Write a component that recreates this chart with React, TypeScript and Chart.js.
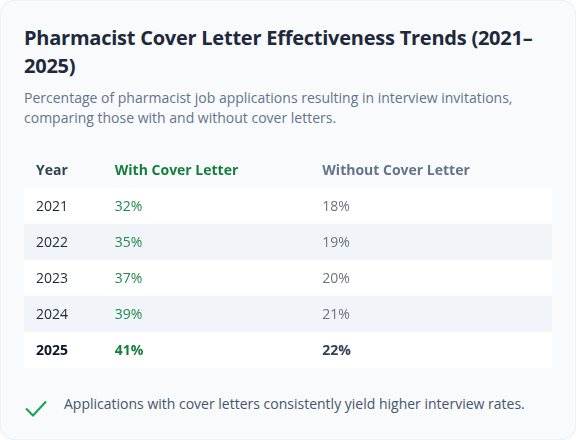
import { useEffect, useRef } from "react"
import { Chart, registerables, type ChartConfiguration, type Plugin } from "chart.js"

Chart.register(...registerables)

const headers = ["Year", "With Cover Letter", "Without Cover Letter"]
const years = ["2021", "2022", "2023", "2024", "2025"]
const withCover = [32, 35, 37, 39, 41]
const withoutCover = [18, 19, 20, 21, 22]

const FONT = "'Open Sans', 'Noto Sans', sans-serif"

// column starts as fractions of the table width
const colPos = [0.0227, 0.172, 0.565]

const cellText: Plugin<"bar"> = {
  id: "cellText",
  afterDatasetsDraw(chart) {
    const { ctx, scales } = chart
    const xs = colPos.map((p) => scales.x.getPixelForValue(p))
    const last = years.length - 1
    ctx.save()
    ctx.textBaseline = "alphabetic"
    ctx.textAlign = "left"

    // header row
    const hy = scales.y.getPixelForValue(0) + 5
    const headColors = ["#334155", "#15803d", "#64748b"]
    ctx.font = `bold 14px ${FONT}`
    headers.forEach((h, c) => {
      ctx.fillStyle = headColors[c]
      ctx.fillText(h, xs[c], hy)
    })

    years.forEach((yr, i) => {
      const y = scales.y.getPixelForValue(i + 1) + 5
      const bold = i === last
      ctx.font = `${bold ? "bold " : ""}14px ${FONT}`
      ctx.fillStyle = bold ? "#0f172a" : "#1f2937"
      ctx.fillText(yr, xs[0], y)
      ctx.fillStyle = bold ? "#15803d" : "#1f8a4c"
      ctx.fillText(`${withCover[i]}%`, xs[1], y)
      ctx.fillStyle = bold ? "#334155" : "#6b7280"
      ctx.fillText(`${withoutCover[i]}%`, xs[2], y)
    })
    ctx.restore()
  },
}

function CoverLetterTable() {
  const canvasRef = useRef<HTMLCanvasElement>(null)
  const chartRef = useRef<Chart | null>(null)

  useEffect(() => {
    if (!canvasRef.current) return
    if (chartRef.current) chartRef.current.destroy()

    const rows = ["header", ...years]

    const config: ChartConfiguration<"bar", number[], string> = {
      type: "bar",
      data: {
        labels: rows,
        datasets: [
          {
            // full-width row stripes
            data: rows.map(() => 1),
            backgroundColor: rows.map((_, i) =>
              i === 0 ? "rgba(0,0,0,0)" : i % 2 === 1 ? "#ffffff" : "#f1f5f9"
            ),
            borderWidth: 0,
            barPercentage: 1,
            categoryPercentage: 1,
          },
        ],
      },
      options: {
        indexAxis: "y",
        responsive: true,
        maintainAspectRatio: false,
        animation: false,
        events: [],
        layout: { padding: 0 },
        scales: {
          x: { type: "linear", min: 0, max: 1, display: false, grid: { display: false } },
          y: { type: "category", display: false, grid: { display: false } },
        },
        plugins: {
          legend: { display: false },
          tooltip: { enabled: false },
        },
      },
      plugins: [cellText],
    }

    chartRef.current = new Chart(canvasRef.current, config)

    return () => {
      if (chartRef.current) {
        chartRef.current.destroy()
        chartRef.current = null
      }
    }
  }, [])

  return (
    <div style={{ position: "relative", width: 528, height: 216, marginTop: 24 }}>
      <canvas ref={canvasRef} />
    </div>
  )
}

export default function App() {
  return (
    <div
      style={{
        position: "fixed",
        left: 0,
        top: 0,
        width: 576,
        height: 440,
        boxSizing: "border-box",
        padding: 24,
        background: "#f8fafc",
        borderRadius: 14,
        boxShadow: "inset 0 0 0 1px #edf1f5",
        fontFamily: FONT,
      }}
    >
      <h2
        style={{
          margin: 0,
          fontSize: 20,
          lineHeight: "28px",
          fontWeight: 700,
          letterSpacing: "-0.24px",
          color: "#1e293b",
        }}
      >
        Pharmacist Cover Letter Effectiveness Trends (2021–2025)
      </h2>
      <p style={{ margin: "8px 0 0", fontSize: 14, lineHeight: "20px", color: "#64748b" }}>
        Percentage of pharmacist job applications resulting in interview invitations, comparing those with and
        without cover letters.
      </p>
      <CoverLetterTable />
      <div style={{ display: "flex", alignItems: "flex-start", marginTop: 26 }}>
        <svg width="24" height="24" viewBox="0 0 24 24" style={{ marginTop: 2, flex: "none" }}>
          <path d="M2 12.5 L9 19.5 L22 5.5" fill="none" stroke="#16a34a" strokeWidth="2" />
        </svg>
        <span style={{ marginLeft: 16, fontSize: 14, lineHeight: "20px", color: "#475569" }}>
          Applications with cover letters consistently yield higher interview rates.
        </span>
      </div>
    </div>
  )
}
